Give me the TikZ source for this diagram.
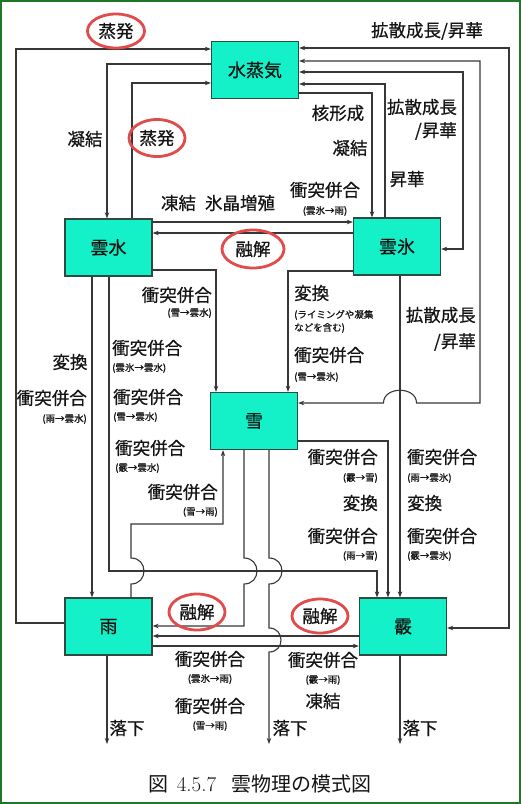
\documentclass[tikz,border=0pt]{standalone}
\usepackage{fontspec}
\newfontfamily\cjk{Noto Sans CJK JP}[FakeBold=0.6]
\newfontfamily\cjkcap{Noto Sans CJK JP}
\usetikzlibrary{arrows.meta,shapes.geometric}
\definecolor{boxfill}{RGB}{20,240,200}
\definecolor{boxline}{RGB}{45,75,65}
\definecolor{lnc}{RGB}{55,55,55}
\definecolor{redring}{RGB}{225,75,75}
\definecolor{framec}{RGB}{30,120,40}
\definecolor{txt}{RGB}{20,20,20}
\begin{document}
\begin{tikzpicture}[x=1pt,y=-1pt,
  box/.style={draw=boxline, line width=1.3pt, fill=boxfill, minimum width=87pt, minimum height=57pt, inner sep=0pt, text=txt, font=\cjk\fontsize{18}{20}\selectfont},
  lab/.style={inner sep=0pt, text=txt, font=\cjk\fontsize{17.5}{20}\selectfont},
  sm/.style={inner sep=0pt, text=txt, font=\cjk\fontsize{9.5}{11}\selectfont},
  ring/.style={lab, ellipse, draw=redring, line width=2.8pt},
  cn/.style={draw=lnc, line width=1.1pt},
  ar/.style={cn, -{Stealth[length=6pt,width=4.5pt]}},
  br/.style={cn, {Stealth[length=6pt,width=4.5pt]}-{Stealth[length=6pt,width=4.5pt]}},
]
\useasboundingbox (0,0) rectangle (521,804);
\draw[framec, line width=2pt] (1,1) rectangle (520,803);

% boxes
\node[box] (vap) at (255,70) {水蒸気};
\node[box] (cw) at (108.5,247.5) {雲水};
\node[box] (ci) at (397,246.5) {雲氷};
\node[box] (sn) at (254,421) {雪};
\node[box] (rn) at (108.5,626.5) {雨};
\node[box] (gr) at (403,626.5) {霰};

% connectors to/from vapour
\draw[ar] (rn.west |- 0,623) -- (16,623) -- (16,49) -- (vap.west |- 0,49);
\draw[ar] (vap.west |- 0,64) -- (107,64) -- (cw.north -| 107,0);
\draw[ar] (cw.north -| 132,0) -- (132,83) -- (vap.west |- 0,83);
\draw[ar] (vap.east |- 0,93) -- (372,93) -- (ci.north -| 372,0);
\draw[ar] (ci.north -| 385,0) -- (385,84) -- (vap.east |- 0,84);
\draw[br] (ci.east |- 0,249) -- (463,249) -- (463,72) -- (vap.east |- 0,72);
\draw[br] (sn.east |- 0,403) -- (383.5,403) .. controls (383.5,386) and (416.5,386) .. (416.5,403) -- (480,403) -- (480,61) -- (vap.east |- 0,61);
\draw[br] (gr.east |- 0,628) -- (509,628) -- (509,48) -- (vap.east |- 0,48);

% cloud water / cloud ice
\draw[ar] (cw.east |- 0,222) -- (ci.west |- 0,222);
\draw[ar] (ci.west |- 0,233) -- (cw.east |- 0,233);
\draw[ar] (cw.east |- 0,270) -- (216,270) -- (sn.north -| 216,0);
\draw[ar] (ci.west |- 0,271) -- (288,271) -- (sn.north -| 288,0);
\draw[ar] (cw.south -| 92,0) -- (rn.north -| 92,0);
\draw[ar] (cw.south -| 109,0) -- (109,571) -- (377,571) -- (gr.north -| 377,0);
\draw[ar] (ci.south -| 400,0) -- (gr.north -| 400,0);

% snow
\draw[ar] (rn.north -| 131,0) -- (131,584) .. controls (148.3,584) and (148.3,558) .. (131,558) -- (131,524) -- (223,524) -- (sn.south -| 223,0);
\draw[ar] (sn.south -| 244,0) -- (244,558) .. controls (261.3,558) and (261.3,584) .. (244,584) -- (244,626) -- (rn.east |- 0,626);
\coordinate (f2) at (269,744);
\draw[ar] (sn.south -| 269,0) -- (269,558) .. controls (286.3,558) and (286.3,584) .. (269,584) -- (269,628) .. controls (285,628) and (285,652) .. (269,652) -- (f2);
\draw[ar] (sn.east |- 0,441) -- (388,441) -- (gr.north -| 388,0);

% rain / graupel
\draw[ar] (gr.west |- 0,636) -- (rn.east |- 0,636);
\draw[ar] (rn.east |- 0,646) -- (gr.west |- 0,646);
\coordinate (f1) at (107,744);
\coordinate (f3) at (400,744);
\draw[ar] (rn.south -| 107,0) -- (f1);
\draw[ar] (gr.south -| 400,0) -- (f3);

% labels top
\node[ring, minimum width=57pt, minimum height=34pt] (e1) at (116,31) {蒸発};
\node[lab] (t1) at (427,31) {拡散成長/昇華};
\node[lab] (t2) at (85,139) {凝結};
\node[ring, minimum width=56pt, minimum height=37pt] (e2) at (157,138) {蒸発};
\node[lab] (t3) at (338,113) {核形成};
\node[lab] (t4) at (350,148) {凝結};
\node[lab] (t5) at (422,107) {拡散成長};
\node[lab, anchor=east] (t6) at (457,131) {/昇華};
\node[lab] (t7) at (407,179) {昇華};
\node[lab] (t8) at (218,203) {凍結\hspace{9pt}氷晶増殖};
\node[lab] (t9) at (325,190) {衝突併合};
\node[sm] (t10) at (325,211) {(雲氷→雨)};
\node[ring, minimum width=62pt, minimum height=38pt] (e3) at (253,249) {融解};

% labels left
\node[lab] (l1) at (70,362) {変換};
\node[lab, anchor=east] (l2) at (87,398) {衝突併合};
\node[sm, anchor=east] (l3) at (87,419) {(雨→雲水)};

% labels mid-left
\node[lab, anchor=east] (m1) at (212,295) {衝突併合};
\node[sm, anchor=east] (m2) at (212,313) {(雪→雲水)};
\node[lab, anchor=west] (m3) at (112,348) {衝突併合};
\node[sm, anchor=west] (m4) at (112,368) {(雲氷→雲水)};
\node[lab, anchor=west] (m5) at (113,397) {衝突併合};
\node[sm, anchor=west] (m6) at (113,417) {(雪→雲水)};
\node[lab, anchor=west] (m7) at (115,448) {衝突併合};
\node[sm, anchor=west] (m8) at (115,468) {(霰→雲水)};
\node[lab, anchor=east] (m9) at (218,492) {衝突併合};
\node[sm, anchor=east] (m10) at (218,512) {(雪→雨)};

% labels mid-right
\node[lab, anchor=west] (r1) at (294,293) {変換};
\node[sm, anchor=west] (r2) at (294,315) {(ライミングや凝集};
\node[sm, anchor=west] (r3) at (294,328) {などを含む)};
\node[lab, anchor=west] (r4) at (294,355) {衝突併合};
\node[sm, anchor=west] (r5) at (294,377) {(雪→雲氷)};
\node[lab, anchor=east] (r6) at (476,315) {拡散成長};
\node[lab, anchor=east] (r7) at (476,342) {/昇華};

% labels lower right
\node[lab, anchor=east] (s1) at (378,457) {衝突併合};
\node[sm, anchor=east] (s2) at (378,478) {(霰→雪)};
\node[lab, anchor=east] (s3) at (378,503) {変換};
\node[lab, anchor=east] (s4) at (378,536) {衝突併合};
\node[sm, anchor=east] (s5) at (378,556) {(雨→雪)};
\node[lab, anchor=west] (s6) at (407,457) {衝突併合};
\node[sm, anchor=west] (s7) at (407,478) {(雨→雲氷)};
\node[lab, anchor=west] (s8) at (407,503) {変換};
\node[lab, anchor=west] (s9) at (407,536) {衝突併合};
\node[sm, anchor=west] (s10) at (407,556) {(霰→雲氷)};

% labels bottom
\node[ring, minimum width=56pt, minimum height=36pt] (e4) at (197,612) {融解};
\node[ring, minimum width=56pt, minimum height=34pt] (e5) at (320,616) {融解};
\node[lab] (b1) at (210,659) {衝突併合};
\node[sm] (b2) at (210,679) {(雲氷→雨)};
\node[lab] (b3) at (210,706) {衝突併合};
\node[sm] (b4) at (210,726) {(雪→雨)};
\node[lab] (b5) at (323,660) {衝突併合};
\node[sm] (b6) at (323,680) {(霰→雨)};
\node[lab] (b7) at (323,701) {凍結};
\node[lab] (d1) at (127,728) {落下};
\node[lab] (d2) at (290,728) {落下};
\node[lab] (d3) at (420,728) {落下};

% caption
\node[inner sep=0pt, text=txt, font=\fontsize{21}{24}\selectfont] (cap) at (260,784) {{\cjkcap\fontsize{20}{24}\selectfont 図}\hspace{8pt}4.5.7\hspace{15pt}{\cjkcap\fontsize{20}{24}\selectfont 雲物理の模式図}};
\end{tikzpicture}
\end{document}
